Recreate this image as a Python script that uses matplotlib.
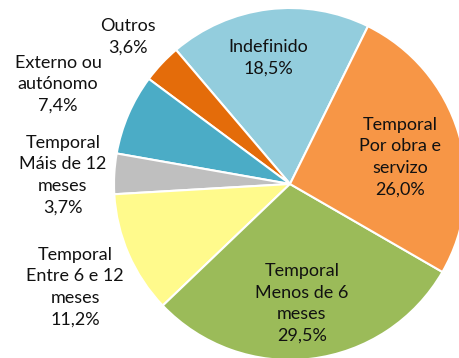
import matplotlib
matplotlib.use("Agg")
import matplotlib.pyplot as plt

# contract types, counterclockwise from the top
labels = ["Indefinido", "Outros", "Externo ou\nautónomo", "Temporal\nMáis de 12\nmeses",
          "Temporal\nEntre 6 e 12\nmeses", "Temporal\nMenos de 6\nmeses", "Temporal\nPor obra e\nservizo"]
shares = [18.5, 3.6, 7.4, 3.7, 11.2, 29.5, 26.0]
colors = ["#93CDDD", "#E46C0A", "#4BACC6", "#BFBFBF", "#FFFA8C", "#9BBB59", "#F79646"]

# where each label sits, in pie units (radius 1)
label_pos = [(-0.125, 0.716), (-0.92, 0.835), (-1.318, 0.568), (-1.29, 0.05),
             (-1.22, -0.585), (0.068, -0.68), (0.625, 0.153)]

plt.rcParams['font.family'] = ['Lato', 'DejaVu Sans']

fig = plt.figure(figsize=(4.59, 3.58), dpi=100)
ax = fig.add_axes([0, 0, 1, 1])
ax.pie(shares, colors=colors, startangle=63.7, counterclock=True,
       wedgeprops=dict(edgecolor="white", linewidth=1.5))

for lab, val, (x, y) in zip(labels, shares, label_pos):
    txt = "%s\n%s%%" % (lab, ("%.1f" % val).replace(".", ","))
    ax.text(x, y, txt, ha="center", va="center", fontsize=13,
            color="#111111", linespacing=1.42)

ax.set_xlim(-290 / 176, (459 - 290) / 176)
ax.set_ylim(-(358 - 184) / 176, 184 / 176)
ax.set_aspect("auto")
ax.axis("off")

fig.savefig("out.png", dpi=100)
